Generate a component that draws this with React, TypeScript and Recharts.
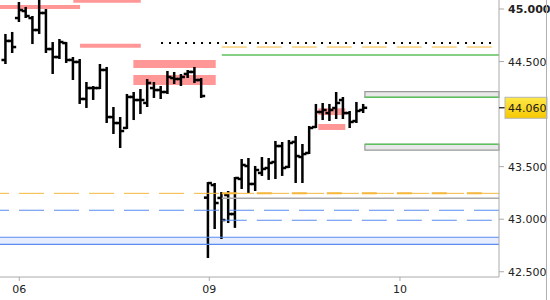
import React from 'react';
import { ComposedChart, Bar, XAxis, YAxis, ReferenceLine, ReferenceArea } from 'recharts';

// ---------- data ----------
const opens = [
  44.515, 44.696, 44.914, 44.981, 44.914, 44.800, 44.962, 44.619, 44.543, 44.676,
  44.515, 44.496, 44.144, 44.248, 44.248, 44.420, 43.972, 43.915, 43.868, 44.163,
  44.134, 44.106, 44.248, 44.229, 44.210, 44.343, 44.334, 44.382, 44.401, 44.324,
  43.205, 43.325, 43.202, 43.230, 43.049, 43.383, 43.506, 43.335, 43.440, 43.487,
  43.544, 43.696, 43.497, 43.735, 43.592, 43.630, 43.877, 44.020, 44.010, 44.058,
  44.134, 44.010, 43.934, 44.039,
];
const highs = [
  44.753, 44.772, 45.057, 45.010, 44.924, 45.081, 44.990, 44.676, 44.705, 44.676,
  44.534, 44.515, 44.296, 44.258, 44.467, 44.439, 44.058, 43.963, 44.182, 44.201,
  44.229, 44.324, 44.296, 44.258, 44.401, 44.391, 44.372, 44.410, 44.439, 44.334,
  43.344, 43.335, 43.249, 43.259, 43.392, 43.563, 43.573, 43.497, 43.582, 43.573,
  43.735, 43.725, 43.744, 43.782, 43.706, 43.877, 44.087, 44.096, 44.087, 44.201,
  44.153, 44.020, 44.106, 44.087,
];
const lows = [
  44.486, 44.591, 44.886, 44.924, 44.676, 44.772, 44.591, 44.391, 44.534, 44.496,
  44.334, 44.106, 44.068, 44.144, 44.248, 43.925, 43.820, 43.687, 43.868, 43.953,
  44.010, 44.077, 44.163, 44.153, 44.201, 44.296, 44.277, 44.353, 44.305, 44.163,
  42.640, 42.916, 42.821, 42.973, 42.927, 43.297, 43.259, 43.278, 43.421, 43.383,
  43.392, 43.421, 43.497, 43.354, 43.354, 43.630, 43.877, 43.953, 43.944, 43.963,
  43.963, 43.877, 43.925, 44.020,
];
const closes = [
  44.696, 44.638, 44.990, 44.933, 44.800, 44.962, 44.619, 44.543, 44.686, 44.515,
  44.496, 44.144, 44.248, 44.248, 44.420, 43.972, 43.915, 43.839, 44.163, 44.134,
  44.134, 44.296, 44.229, 44.210, 44.353, 44.334, 44.353, 44.401, 44.324, 44.172,
  43.344, 43.154, 42.992, 43.049, 43.392, 43.516, 43.335, 43.468, 43.478, 43.535,
  43.696, 43.487, 43.725, 43.601, 43.620, 43.868, 44.020, 44.039, 44.039, 44.106,
  44.010, 43.925, 44.030, 44.060,
];

const dayTickPositions = [2, 30.15, 58.4];
const dayTickLabels = ['06', '09', '10'];
const priceTicks = [42.5, 43.0, 43.5, 44.06, 44.5, 45.0];
const lastPrice = 44.06;

const xDomain: [number, number] = [-0.86, 73.07];
const yDomain: [number, number] = [42.45, 45.0856];

// supply/demand zones [x1, x2, yLow, yHigh]
const pinkZones: number[][] = [
  [-0.86, 11, 45.0, 45.038],
  [10, 20, 45.06, 45.0856],
  [11, 20, 44.632, 44.67],
  [18.9, 31.1, 44.439, 44.515],
  [18.9, 31.1, 44.277, 44.372],
  [46.3, 50.3, 43.991, 44.055],
  [46.3, 50.3, 43.849, 43.906],
];
const grayBoxes: number[][] = [
  [53.2, 73.07, 44.16, 44.213],
  [53.2, 73.07, 43.658, 43.713],
];
const greenLevels = [44.562, 44.16, 43.713];
const greenStarts = [32, 53.2, 53.2];
const dottedLevel = 44.676;
const dottedStart = 23;
const dottedEnd = 72.2;
const orangeTopLevel = 44.638;
const orangeLowLevel = 43.246;
const grayLevel = 43.199;
const blueDashFull = 43.085;
const blueDashPart = 42.99;
const blueBand = [42.761, 42.828];
const levelStart = 32;

const data = opens.map((o, i) => ({
  idx: i,
  open: o,
  high: highs[i],
  low: lows[i],
  close: closes[i],
  range: [lows[i], highs[i]],
}));

// ---------- shapes ----------
const OhlcShape = (props: any) => {
  const { x, y, width, height, payload } = props;
  if (x == null || y == null) return null;
  const top = Math.min(y, y + height);
  const h = Math.abs(height);
  const cx = x + width / 2;
  const span = payload.high - payload.low || 1;
  const py = (v: number) => top + ((payload.high - v) / span) * h;
  const sw = 2.5;
  return (
    <g>
      <line x1={cx} x2={cx} y1={top - 1} y2={top + h + 1} stroke="#000" strokeWidth={sw} />
      <line x1={cx - 4} x2={cx} y1={py(payload.open)} y2={py(payload.open)} stroke="#000" strokeWidth={sw} />
      <line x1={cx} x2={cx + 4} y1={py(payload.close)} y2={py(payload.close)} stroke="#000" strokeWidth={sw} />
    </g>
  );
};

const PriceTick = (props: any) => {
  const { x, y, payload } = props;
  const v = payload.value;
  const label = v.toFixed(3);
  if (Math.abs(v - lastPrice) < 1e-6) {
    return (
      <g>
        <defs>
          <linearGradient id="goldGrad" x1="0" y1="0" x2="0" y2="1">
            <stop offset="0%" stopColor="#ffe94a" />
            <stop offset="100%" stopColor="#f7c800" />
          </linearGradient>
        </defs>
        <line x1={x - 9} x2={x - 3} y1={y} y2={y} stroke="#000" strokeWidth={1} />
        <rect x={x - 3} y={y - 10.5} width={42} height={21} fill="url(#goldGrad)" stroke="#b5b5b5" strokeWidth={1} />
        <text x={x} y={y} dy="0.36em" fill="#222" fontSize={11} fontFamily="DejaVu Sans">
          {label}
        </text>
      </g>
    );
  }
  return (
    <text
      x={x}
      y={y}
      dy="0.36em"
      fill="#222"
      fontSize={11}
      fontFamily="DejaVu Sans"
      fontWeight={Math.abs(v - 45) < 1e-6 ? 'bold' : 'normal'}
    >
      {label}
    </text>
  );
};

export default function App() {
  return (
    <div style={{ position: 'absolute', left: 0, top: 0, width: 550, height: 300, background: '#fff' }}>
      <ComposedChart
        width={550}
        height={300}
        data={data}
        margin={{ top: 0, right: 0, bottom: 0, left: 0 }}
        style={{ fontFamily: 'DejaVu Sans' }}
      >
        <XAxis
          dataKey="idx"
          type="number"
          domain={xDomain}
          allowDataOverflow
          ticks={dayTickPositions}
          interval={0}
          tickFormatter={(v: number) => dayTickLabels[dayTickPositions.indexOf(v)] ?? ''}
          height={23}
          stroke="#aaa"
          tickSize={4}
          tickMargin={4}
          tick={{ fill: '#222', fontSize: 11, fontFamily: 'DejaVu Sans' }}
        />
        <YAxis
          orientation="right"
          type="number"
          domain={yDomain}
          allowDataOverflow
          ticks={priceTicks}
          interval={0}
          width={51}
          stroke="#aaa"
          tickSize={5}
          tickMargin={4}
          tick={<PriceTick />}
        />

        {/* blue band */}
        <ReferenceArea x1={xDomain[0]} x2={xDomain[1]} y1={blueBand[0]} y2={blueBand[1]} fill="#e6edff" fillOpacity={1} stroke="none" />
        <ReferenceLine y={blueBand[0]} stroke="#5a8cf0" strokeWidth={1.2} />
        <ReferenceLine y={blueBand[1]} stroke="#5a8cf0" strokeWidth={1.2} />

        {/* pink zones */}
        {pinkZones.map((z, i) => (
          <ReferenceArea key={'p' + i} x1={z[0]} x2={z[1]} y1={z[2]} y2={z[3]} fill="#ff9797" fillOpacity={1} stroke="none" />
        ))}

        {/* gray boxes */}
        {grayBoxes.map((b, i) => (
          <ReferenceArea key={'g' + i} x1={b[0]} x2={b[1]} y1={b[2]} y2={b[3]} fill="#e8e8e8" fillOpacity={1} stroke="#999" strokeWidth={1.2} />
        ))}

        {/* dashed levels */}
        <ReferenceLine y={orangeLowLevel} stroke="#f5b73b" strokeWidth={1} strokeDasharray="25 10" />
        <ReferenceLine
          segment={[{ x: levelStart, y: orangeLowLevel }, { x: xDomain[1], y: orangeLowLevel }]}
          stroke="#f5b73b"
          strokeWidth={2}
          strokeDasharray="15 20"
        />
        <ReferenceLine segment={[{ x: levelStart, y: grayLevel }, { x: xDomain[1], y: grayLevel }]} stroke="#aaa" strokeWidth={1.5} />
        <ReferenceLine y={blueDashFull} stroke="#5a8cf0" strokeWidth={1.2} strokeDasharray="25 10" />
        <ReferenceLine
          segment={[{ x: levelStart, y: blueDashPart }, { x: xDomain[1], y: blueDashPart }]}
          stroke="#5a8cf0"
          strokeWidth={1.2}
          strokeDasharray="25 10"
        />

        {/* top levels */}
        <ReferenceLine
          segment={[{ x: dottedStart, y: dottedLevel }, { x: dottedEnd, y: dottedLevel }]}
          stroke="#000"
          strokeWidth={2}
          strokeDasharray="2 6"
        />
        <ReferenceLine
          segment={[{ x: levelStart, y: orangeTopLevel }, { x: dottedEnd, y: orangeTopLevel }]}
          stroke="#f5b73b"
          strokeWidth={1}
          strokeDasharray="25 10"
        />
        {greenLevels.map((g, i) => (
          <ReferenceLine key={'gr' + i} segment={[{ x: greenStarts[i], y: g }, { x: xDomain[1], y: g }]} stroke="#5cc15c" strokeWidth={1.5} />
        ))}

        <Bar dataKey="range" barSize={6} isAnimationActive={false} shape={<OhlcShape />} />
      </ComposedChart>
      <div style={{ position: 'absolute', left: 546, top: 0, width: 1, height: 300, background: '#b0b0b0' }} />
    </div>
  );
}
